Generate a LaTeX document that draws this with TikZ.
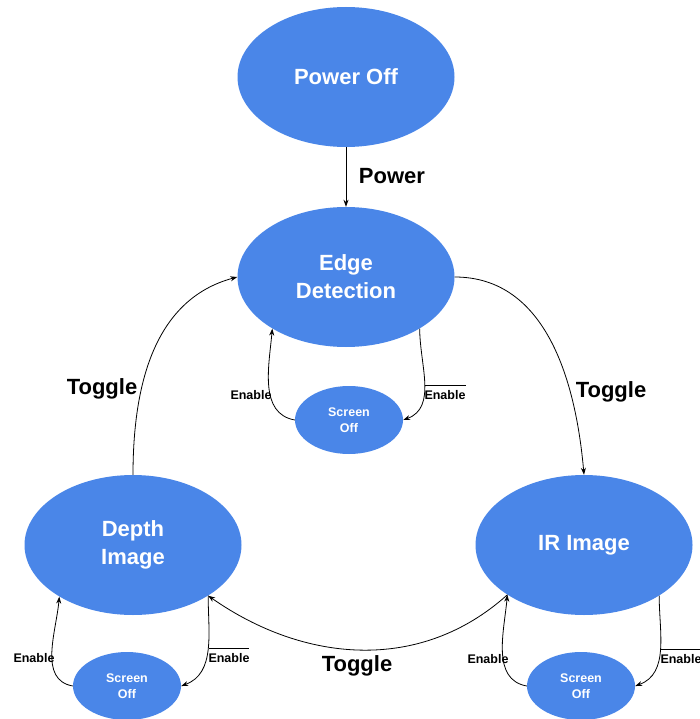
\documentclass[tikz,border=0pt]{standalone}
\usepackage{fontspec}
\setmainfont{Liberation Sans}
\usetikzlibrary{shapes.geometric, arrows.meta}
\definecolor{stateblue}{HTML}{4A86E8}

\begin{document}
\begin{tikzpicture}[x = 1pt, y = 1pt,
		state/.style = {ellipse, fill = stateblue, text = white, inner sep = 0pt,
			minimum width = 217, minimum height = 140, align = center,
			font = \bfseries\fontsize{22}{28}\selectfont},
		substate/.style = {ellipse, fill = stateblue, text = white, inner sep = 0pt,
			minimum width = 108, minimum height = 68, align = center,
			font = \bfseries\fontsize{12.5}{16}\selectfont},
		biglabel/.style = {anchor = base, inner sep = 0pt, font = \bfseries\fontsize{22}{26}\selectfont},
		smalllabel/.style = {anchor = base, inner sep = 0pt, font = \bfseries\fontsize{12.5}{15}\selectfont},
		trans/.style = {-{Stealth[length = 7pt, width = 5pt]}, line width = 0.8pt}]
		\def\notEnable{$\overline{\mbox{\rule{0pt}{12pt}Enable}}$}
		\useasboundingbox (0,0) rectangle (699,-719);
	
		% states
		\node[state] (poweroff) at (346,-77) {Power Off};
		\node[state] (edge) at (346,-277) {Edge\\Detection};
		\node[state] (depth) at (133,-545) {Depth\\Image};
		\node[state] (ir) at (584,-545) {IR Image};
		\node[substate] (edgeoff) at (349,-420) {Screen\\Off};
		\node[substate] (depthoff) at (127,-686) {Screen\\Off};
		\node[substate] (iroff) at (581,-686) {Screen\\Off};
	
		% toggling between the modes
		\begin{scope}[trans]
			\draw (poweroff) -- (edge);
			\draw (edge.east) to [out = 0, in = 95] (ir.north);
			\draw (ir.213) to [out = 222, in = -35] (depth.-34);
			\draw (depth.north) to [out = 90, in = 195] (edge.west);
		\end{scope}
	
		% screen on / off loops
		\begin{scope}[trans]
			\draw (edgeoff.west) to [out = 170, in = -95] (edge.215);
			\draw (edge.-35) to [out = -90, in = 20] (edgeoff.east);
			\draw (depthoff.west) to [out = 170, in = -95] (depth.215);
			\draw (depth.-34) to [out = -90, in = 20] (depthoff.east);
			\draw (iroff.west) to [out = 170, in = -95] (ir.213);
			\draw (ir.-34) to [out = -90, in = 20] (iroff.east);
		\end{scope}
	
		\node[biglabel] (powerlabel) at (392,-184) {Power};
		\node[biglabel] (toggleleft) at (102,-394) {Toggle};
		\node[biglabel] (toggleright) at (611,-397) {Toggle};
		\node[biglabel] (togglebottom) at (357,-671) {Toggle};
	
		\node[smalllabel] (edgeon) at (251,-399) {Enable};
		\node[smalllabel] (edgeoffl) at (445,-399) {\notEnable};
		\node[smalllabel] (depthon) at (34,-662) {Enable};
		\node[smalllabel] (depthoffl) at (229,-662) {\notEnable};
		\node[smalllabel] (iron) at (488,-663) {Enable};
		\node[smalllabel] (iroffl) at (681,-663) {\notEnable};
	\end{tikzpicture}
\end{document}
